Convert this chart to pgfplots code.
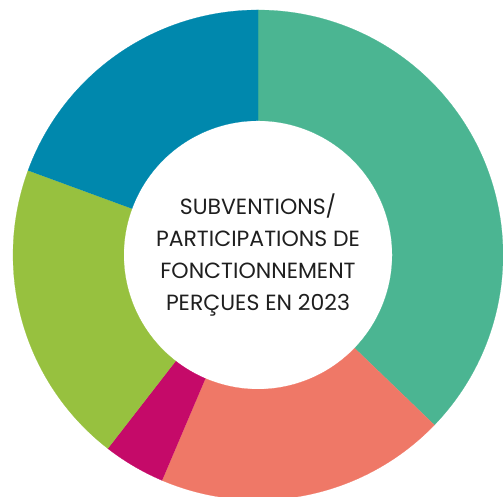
\documentclass[border=0pt]{standalone}
\usepackage{fontspec}
\setmainfont{Poppins}
\usepackage{pgfplots}
\pgfplotsset{compat=1.18}
\definecolor{cteal}{HTML}{4BB592}
\definecolor{csalmon}{HTML}{EF7867}
\definecolor{cmagenta}{HTML}{C50A69}
\definecolor{cgreen}{HTML}{97C13F}
\definecolor{cblue}{HTML}{0088AD}
% shares (percent), clockwise from 12 o'clock
\def\vA{37.2}\def\vB{19.2}\def\vC{4.1}\def\vD{20.1}\def\vE{19.4}
\pgfmathsetmacro\sA{0}
\pgfmathsetmacro\sB{\sA+\vA}
\pgfmathsetmacro\sC{\sB+\vB}
\pgfmathsetmacro\sD{\sC+\vC}
\pgfmathsetmacro\sE{\sD+\vD}
\newcommand\slice[3]{%
  \addplot[fill=#3, draw=#3, line width=0.2pt, domain=0:2.2, samples=221, variable=\t]
  ({(\t<1.1 ? 1 : 0.548)*cos(90-3.6*(#1 + #2*(min(\t,1)-max(\t-1.2,0))))},
   {(\t<1.1 ? 1 : 0.548)*sin(90-3.6*(#1 + #2*(min(\t,1)-max(\t-1.2,0))))});
}
\begin{document}
\begin{tikzpicture}
\begin{axis}[
  hide axis, scale only axis,
  width=503pt, height=497pt,
  xmin=-1.0531, xmax=1.0,
  ymin=-0.9878, ymax=1.0408,
  clip=true]
\slice{\sA}{\vA}{cteal}
\slice{\sB}{\vB}{csalmon}
\slice{\sC}{\vC}{cmagenta}
\slice{\sD}{\vD}{cgreen}
\slice{\sE}{\vE}{cblue}
\path (rel axis cs:0,0) rectangle (rel axis cs:1,1);
\node[align=center, text=black!88, font=\fontsize{22}{32}\selectfont] at (axis cs:0,0)
  {SUBVENTIONS/\\PARTICIPATIONS DE\\FONCTIONNEMENT\\PERÇUES EN 2023};
\end{axis}
\end{tikzpicture}
\end{document}
